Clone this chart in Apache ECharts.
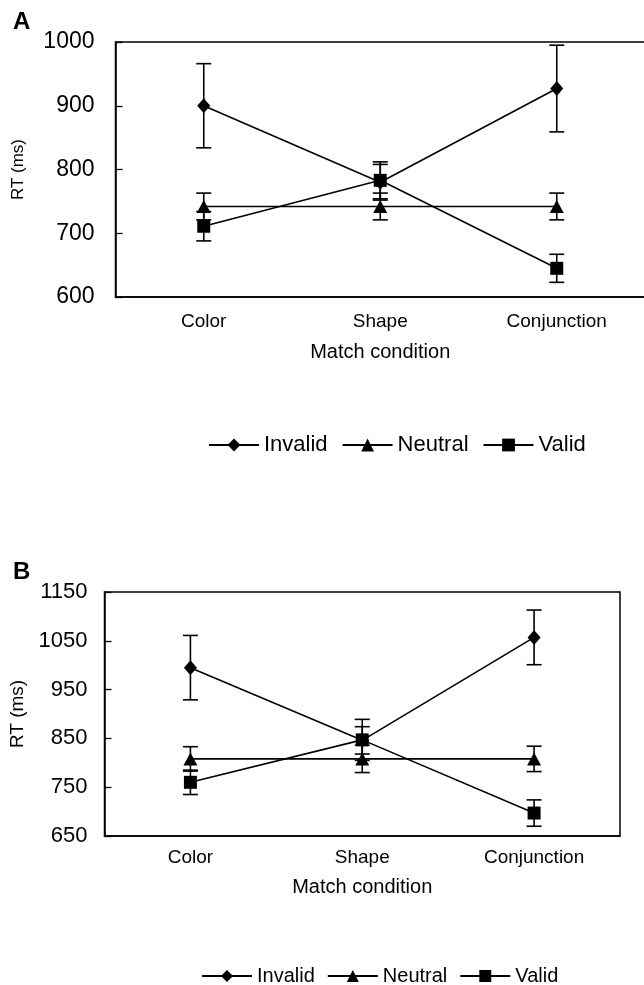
<!DOCTYPE html>
<html>
<head>
<meta charset="utf-8">
<script src="https://cdn.jsdelivr.net/npm/echarts@6/dist/echarts.min.js"></script>
<style>
html,body{margin:0;padding:0;background:#fff;}
#chart{width:644px;height:985px;}
</style>
</head>
<body>
<div id="chart"></div>
<script>
// ---- Data ----
const categories = ['Color', 'Shape', 'Conjunction'];
const seriesNames = ['Invalid', 'Neutral', 'Valid'];

// Panel A
const aInvalid = [900, 780, 927];
const aInvalidErr = [66, 28, 68];
const aNeutral = [742, 742, 742];
const aNeutralErr = [21, 21, 21];
const aValid = [711, 783, 645];
const aValidErr = [23, 29, 22];
const aTicks = { min: 600, max: 1000, interval: 100 };

// Panel B
const bInvalid = [995, 846, 1057];
const bInvalidErr = [66, 28, 56];
const bNeutral = [808, 808, 808];
const bNeutralErr = [25, 28, 26];
const bValid = [760, 847, 697];
const bValidErr = [25, 42, 27];
const bTicks = { min: 650, max: 1150, interval: 100 };

const FONT = 'Liberation Sans, Arial, Helvetica, sans-serif';
const symbols = { Invalid: ['diamond', [13, 15]], Neutral: ['triangle', [14, 13]], Valid: ['rect', [13, 13]] };

function errData(vals, errs) {
  return vals.map((v, i) => [i, v - errs[i], v + errs[i]]);
}
function errorSeries(idx, vals, errs) {
  return {
    type: 'custom',
    xAxisIndex: idx, yAxisIndex: idx,
    data: errData(vals, errs),
    z: 3,
    silent: true,
    renderItem: function (params, api) {
      const lo = api.coord([api.value(0), api.value(1)]);
      const hi = api.coord([api.value(0), api.value(2)]);
      const hw = 7.5;
      const st = { stroke: '#000', lineWidth: 1.6 };
      return {
        type: 'group',
        children: [
          { type: 'line', shape: { x1: lo[0], y1: lo[1], x2: hi[0], y2: hi[1] }, style: st },
          { type: 'line', shape: { x1: lo[0] - hw, y1: lo[1], x2: lo[0] + hw, y2: lo[1] }, style: st },
          { type: 'line', shape: { x1: hi[0] - hw, y1: hi[1], x2: hi[0] + hw, y2: hi[1] }, style: st }
        ]
      };
    }
  };
}
function lineSeries(idx, name, vals) {
  return {
    type: 'line', name: name,
    xAxisIndex: idx, yAxisIndex: idx,
    data: vals,
    symbol: symbols[name][0],
    symbolSize: symbols[name][1],
    itemStyle: { color: '#000' },
    lineStyle: { color: '#000', width: 1.6 },
    z: 4,
    animation: false
  };
}

const grids = [
  { left: 115.5, top: 42, right: -1, height: 255 },
  { left: 104.5, top: 592, width: 515.5, height: 244 }
];

function xAxis(idx, labelMargin, nameGap, fs) {
  return {
    type: 'category', gridIndex: idx, data: categories,
    boundaryGap: true,
    axisLine: { lineStyle: { color: '#000', width: 1.5 } },
    axisTick: { show: false },
    axisLabel: { color: '#000', fontSize: fs, fontFamily: FONT, margin: labelMargin },
    name: 'Match condition', nameLocation: 'middle', nameGap: nameGap,
    nameTextStyle: { color: '#000', fontSize: 20, fontFamily: FONT },
    splitLine: { show: false }
  };
}
function yAxis(idx, ticks, fontSize, labelMargin, nameGap, nameSize) {
  return {
    type: 'value', gridIndex: idx,
    min: ticks.min, max: ticks.max, interval: ticks.interval,
    axisLine: { show: true, lineStyle: { color: '#000', width: 1.5 } },
    axisTick: { show: true, inside: true, length: 7, lineStyle: { color: '#000', width: 1.3 } },
    axisLabel: { color: '#000', fontSize: fontSize, fontFamily: FONT, margin: labelMargin, formatter: v => String(v) },
    splitLine: { show: false },
    name: 'RT (ms)', nameLocation: 'middle', nameGap: nameGap,
    nameTextStyle: { color: '#000', fontSize: nameSize, fontFamily: FONT }
  };
}

const option = {
  animation: false,
  backgroundColor: '#fff',
  title: [
    { text: 'A', left: 8, top: 5, textStyle: { fontSize: 24, fontWeight: 'bold', fontFamily: FONT, color: '#000' } },
    { text: 'B', left: 8, top: 555, textStyle: { fontSize: 24, fontWeight: 'bold', fontFamily: FONT, color: '#000' } }
  ],
  grid: grids.map(g => Object.assign({ show: true, borderColor: '#000', borderWidth: 1.5, backgroundColor: 'transparent', containLabel: false, outerBoundsMode: 'none' }, g)),
  xAxis: [xAxis(0, 15, 45, 19), xAxis(1, 12, 41, 19)],
  yAxis: [yAxis(0, aTicks, 23, 21, 89, 17), yAxis(1, bTicks, 22, 17, 76, 19)],
  legend: [
    {
      data: seriesNames, left: 203, top: 429, itemWidth: 50, itemHeight: 16, itemGap: 14,
      selectedMode: false,
      textStyle: { color: '#000', fontSize: 22, fontFamily: FONT }
    },
    {
      data: seriesNames, left: 196, top: 961, itemWidth: 50, itemHeight: 15, itemGap: 12,
      selectedMode: false,
      textStyle: { color: '#000', fontSize: 20, fontFamily: FONT }
    }
  ],
  series: [
    errorSeries(0, aInvalid, aInvalidErr),
    errorSeries(0, aNeutral, aNeutralErr),
    errorSeries(0, aValid, aValidErr),
    lineSeries(0, 'Invalid', aInvalid),
    lineSeries(0, 'Neutral', aNeutral),
    lineSeries(0, 'Valid', aValid),
    errorSeries(1, bInvalid, bInvalidErr),
    errorSeries(1, bNeutral, bNeutralErr),
    errorSeries(1, bValid, bValidErr),
    lineSeries(1, 'Invalid', bInvalid),
    lineSeries(1, 'Neutral', bNeutral),
    lineSeries(1, 'Valid', bValid)
  ]
};

const chart = echarts.init(document.getElementById('chart'), null, { renderer: 'canvas' });
chart.setOption(option);
</script>
</body>
</html>
